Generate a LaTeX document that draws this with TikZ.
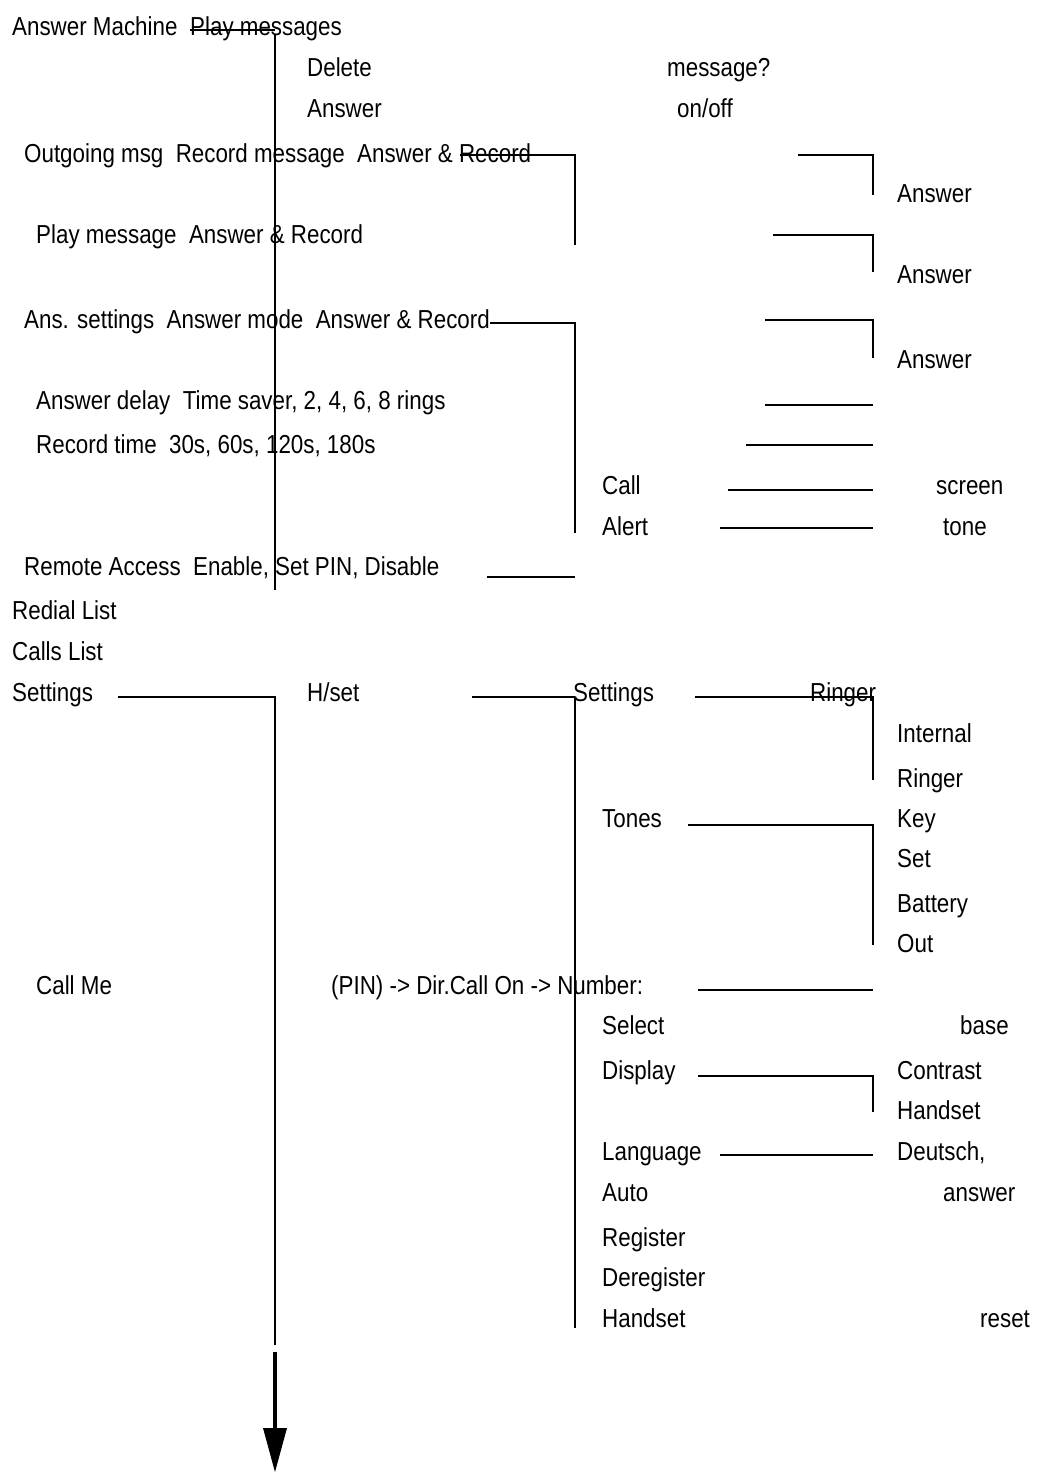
\documentclass[tikz,border=0pt]{standalone}
\usepackage{fontspec}
\setmainfont{Liberation Sans}[FakeStretch=0.86]
\begin{document}
\begin{tikzpicture}[x=1pt,y=-1pt,
  t/.style={anchor=west,inner sep=0pt,text height=19pt,text depth=5pt,font=\fontsize{26}{28}\selectfont},
  thin/.style={line width=1.4pt},
  thick/.style={line width=2.8pt}]
\useasboundingbox (0,0) rectangle (1037,1481);
\foreach \x/\y/\s [count=\i] in {
 12/28/Answer Machine, 190/28/Play messages, 307/69/Delete, 667/69/message?,
 307/110/Answer, 677/110/on{/}off,
 24/155/Outgoing msg\ \ Record message\ \ Answer \& Record, 897/195/Answer,
 36/236/Play message\ \ Answer \& Record, 897/276/Answer,
 24/321/Ans. settings\ \ Answer mode\ \ Answer \& Record, 897/361/Answer,
 36/402/{Answer delay\ \ Time saver, 2, 4, 6, 8 rings},
 36/446/{Record time\ \ 30s, 60s, 120s, 180s},
 602/487/Call, 936/487/screen, 602/528/Alert, 943/528/tone,
 24/568/{Remote Access\ \ Enable, Set PIN, Disable},
 12/612/Redial List, 12/653/Calls List, 12/694/Settings,
 307/694/H{/}set, 573/694/Settings, 810/694/Ringer,
 897/735/Internal, 897/780/Ringer, 602/820/Tones, 897/820/Key, 897/860/Set,
 897/905/Battery, 897/945/Out, 36/987/Call Me,
 331/987/(PIN) -> Dir.Call On -> Number:,
 602/1027/Select, 960/1027/base, 602/1072/Display, 897/1072/Contrast,
 897/1112/Handset, 602/1153/Language, 897/1153/{Deutsch,}, 602/1194/Auto,
 943/1194/answer, 602/1239/Register, 602/1279/Deregister, 602/1320/Handset,
 980/1320/reset}
 \node[t] (n\i) at (\x,\y) {\s};
\draw[thin] (190,30) -- (275,30);
\draw[thin] (275,35) coordinate (v1) -- (275,590) coordinate (v2);
\draw[thin] (460,155) -- (575,155) -- (575,245);
\draw[thick] (798,155) -- (873,155) -- (873,195);
\draw[thick] (773,235) -- (873,235) -- (873,272);
\draw[thick] (490,323) -- (575,323) -- (575,533);
\draw[thin] (765,320) -- (873,320) -- (873,358);
\draw[thick] (765,405) -- (873,405);
\draw[thick] (746,445) -- (873,445);
\draw[thick] (728,490) -- (873,490);
\draw[thick] (720,528) -- (873,528);
\draw[thick] (487,577) -- (575,577);
\draw[thin] (118,697) -- (275,697) -- (275,1345);
\draw[thin] (472,697) -- (575,697);
\draw[thin] (575,697) -- (575,1328);
\draw[thin] (695,697) -- (873,697) -- (873,780);
\draw[thin] (688,825) -- (873,825) -- (873,945);
\draw[thick] (698,990) -- (873,990);
\draw[thin] (698,1076) -- (873,1076) -- (873,1112);
\draw[thin] (720,1155) -- (873,1155);
\draw[line width=4pt] (275,1352) -- (275,1430);
\fill (263,1428) -- (287,1428) -- (275,1472) -- cycle;
\end{tikzpicture}
\end{document}
